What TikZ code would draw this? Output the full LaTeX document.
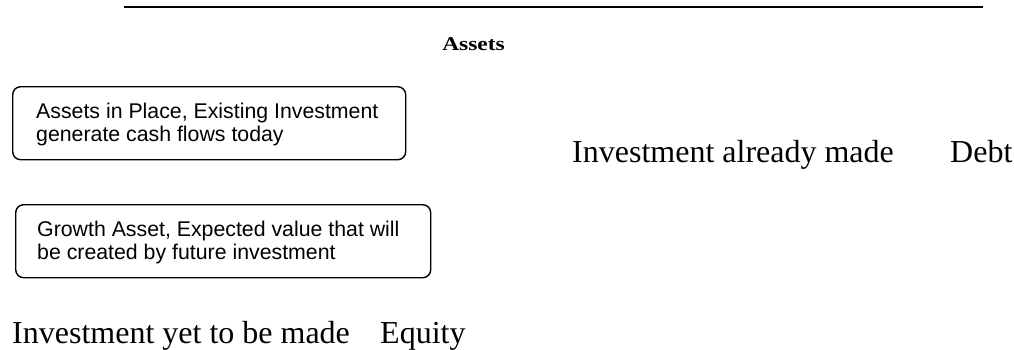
\documentclass[tikz,border=0pt]{standalone}
\usepackage{fontspec}
\setmainfont{Liberation Serif}
\newfontfamily\boxfont{Liberation Sans}
\begin{document}
\begin{tikzpicture}[x=1pt,y=-1pt,
  assetbox/.style={draw, line width=1.4pt, rounded corners=8pt, anchor=north west, inner sep=0pt},
  boxtext/.style={anchor=base west, inner sep=0pt, align=left,
    font=\boxfont\fontsize{21.3}{22.5}\selectfont},
  bigtext/.style={anchor=base west, inner sep=0pt, font=\fontsize{32}{36}\selectfont},
  headtext/.style={anchor=base, inner sep=0pt}]
\useasboundingbox (0,0) rectangle (1014,349);

% top rule
\coordinate (ruleL) at (124,7.3);
\coordinate (ruleR) at (983,7.3);
\draw[line width=2pt] (ruleL) -- (ruleR);

% heading
\node[headtext] (head) at (473.5,50) {\scalebox{1.2}[1]{\fontsize{19.5}{22}\selectfont\bfseries Assets}};

% boxes (text nodes anchored on the baseline of their last line)
\node[assetbox, minimum width=393pt, minimum height=73pt] (place) at (12,86) {};
\node[boxtext] (placetxt) at (36,141) {Assets in Place, Existing Investment\\generate cash flows today};

\node[assetbox, minimum width=415pt, minimum height=73pt] (growth) at (15,204) {};
\node[boxtext] (growthtxt) at (37,259) {Growth Asset, Expected value that will\\be created by future investment};

% right and bottom labels
\node[bigtext] (made) at (572,162) {Investment already made};
\node[bigtext] (debt) at (950,162) {Debt};
\node[bigtext] (yet) at (12,343) {Investment yet to be made};
\node[bigtext] (equity) at (380,343) {Equity};
\end{tikzpicture}
\end{document}
